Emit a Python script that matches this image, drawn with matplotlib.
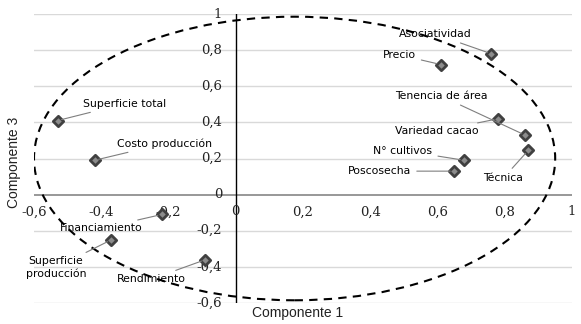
import matplotlib
matplotlib.use("Agg")
import matplotlib.pyplot as plt
from matplotlib.patches import Ellipse

# datos (componente 1, componente 3)
names = ["Superficie total", "Costo producción", "Financiamiento", "Superficie\nproducción",
         "Rendimiento", "Asociatividad", "Precio", "Tenencia de área", "Variedad cacao",
         "N° cultivos", "Poscosecha", "Técnica"]
comp1 = [-0.53, -0.42, -0.22, -0.37, -0.09, 0.76, 0.61, 0.86, 0.78, 0.68, 0.65, 0.87]
comp3 = [0.41, 0.19, -0.11, -0.25, -0.36, 0.78, 0.72, 0.33, 0.42, 0.19, 0.13, 0.245]

# posicion de etiquetas (offset en puntos) y alineacion
offsets = [(18, 12), (16, 12), (-14, -10), (-40, -20), (-14, -14), (-14, 14), (-18, 7),
           (-27, 28), (-14, -9), (-23, 7), (-31, 0), (-18, -20)]
aligns = ["left", "left", "right", "center", "right", "right", "right", "right", "right",
          "right", "right", "center"]

ticks = [-0.6, -0.4, -0.2, 0, 0.2, 0.4, 0.6, 0.8, 1]
tick_labels = ["-0,6", "-0,4", "-0,2", "0", "0,2", "0,4", "0,6", "0,8", "1"]

plt.rcParams['font.family'] = ['DejaVu Sans']

fig = plt.figure(figsize=(5.81, 3.24), dpi=100)
ax = fig.add_axes([34/581, 21/324, 538/581, 289/324])
ax.set_xlim(-0.6, 1)
ax.set_ylim(-0.6, 1)
for s in ax.spines.values():
    s.set_visible(False)
ax.set_xticks([])
ax.set_yticks([])

# rejilla horizontal
for t in ticks:
    if t == 0:
        continue
    ax.axhline(t, color="#d9d9d9", lw=1, zorder=0)
ax.axhline(0, color="#868686", lw=1.2, zorder=1)
ax.axvline(0, color="black", lw=1, zorder=1)

# etiquetas de ejes junto a los ejes
for t, lab in zip(ticks, tick_labels):
    ax.text(-0.04, t, lab, ha="right", va="center", fontsize=9.5, color="#222222",
            family="DejaVu Serif")
    ax.text(t, -0.06, lab, ha="center", va="top", fontsize=9.5, color="#222222",
            family="DejaVu Serif")

# elipse
ell = Ellipse((0.175, 0.2), 1.55, 1.57, fill=False, ls=(0, (4, 3)), lw=1.5,
              edgecolor="black", zorder=2)
ax.add_patch(ell)

ax.scatter(comp1, comp3, marker="D", s=28, facecolor="#8c8c8c", edgecolor="#404040",
           linewidths=2, zorder=4)

for n, x, y, off, al in zip(names, comp1, comp3, offsets, aligns):
    ax.annotate(n, (x, y), xytext=off, textcoords="offset points", ha=al, va="center",
                fontsize=7.8, color="black", zorder=5,
                arrowprops=dict(arrowstyle="-", color="#7f7f7f", lw=0.8,
                                shrinkA=2, shrinkB=3))

fig.text(298/581, 1 - 313/324, "Componente 1", ha="center", va="center", fontsize=10,
         color="#222222", family="Liberation Sans")
fig.text(14/581, 0.5, "Componente 3", ha="center", va="center", rotation=90, fontsize=10,
         color="#222222", family="Liberation Sans")

fig.savefig("out.png", dpi=100)
